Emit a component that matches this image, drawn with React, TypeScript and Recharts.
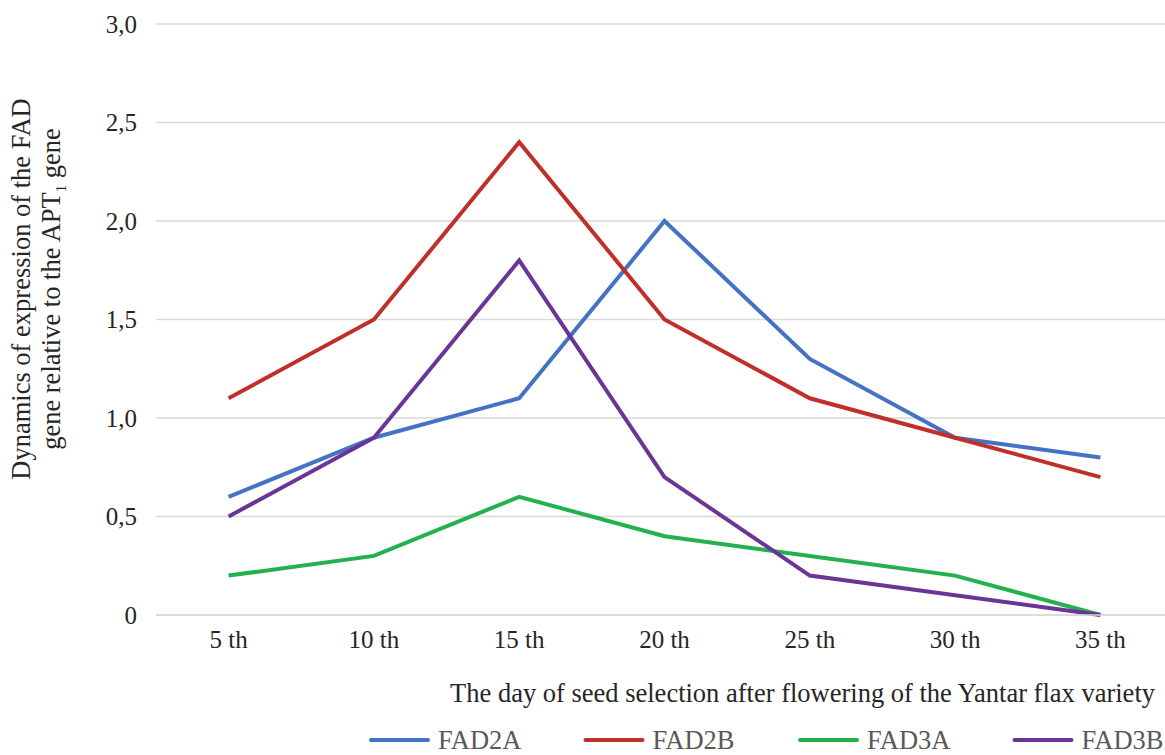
import React from "react";
import { LineChart, Line, XAxis, YAxis, CartesianGrid, Legend, Label } from "recharts";

const categories = ["5 th", "10 th", "15 th", "20 th", "25 th", "30 th", "35 th"];
const fad2a = [0.6, 0.9, 1.1, 2.0, 1.3, 0.9, 0.8];
const fad2b = [1.1, 1.5, 2.4, 1.5, 1.1, 0.9, 0.7];
const fad3a = [0.2, 0.3, 0.6, 0.4, 0.3, 0.2, 0.0];
const fad3b = [0.5, 0.9, 1.8, 0.7, 0.2, 0.1, 0.0];
const yTicks = [0, 0.5, 1, 1.5, 2, 2.5, 3];

const seriesNames = ["FAD2A", "FAD2B", "FAD3A", "FAD3B"];
const seriesColors = ["#4472C4", "#C0302B", "#23B04E", "#6A3596"];

const data = categories.map((c, i) => ({
  day: c,
  FAD2A: fad2a[i],
  FAD2B: fad2b[i],
  FAD3A: fad3a[i],
  FAD3B: fad3b[i],
}));

const FONT = "Liberation Serif, serif";
const fontStyle = { fontFamily: FONT };

const fmtY = (v: number) => (v === 0 ? "0" : v.toFixed(1).replace(".", ","));

const YTitle = () => (
  <g style={fontStyle}>
    <text
      transform="translate(30,289) rotate(-90)"
      textAnchor="middle"
      fontFamily={FONT}
      style={fontStyle}
      fontSize={26.5}
      fill="#262626"
    >
      Dynamics of expression of the FAD
    </text>
    <text
      transform="translate(60,289) rotate(-90)"
      textAnchor="middle"
      fontFamily={FONT}
      style={fontStyle}
      fontSize={26.5}
      fill="#262626"
    >
      gene relative to the APT
      <tspan fontSize={15} dy={6}>1</tspan>
      <tspan dy={-6}> gene</tspan>
    </text>
  </g>
);

const XTitle = () => (
  <text x={1155} y={702} textAnchor="end" fontFamily={FONT} style={fontStyle} fontSize={26.5} fill="#262626">
    The day of seed selection after flowering of the Yantar flax variety
  </text>
);

const LegendContent = () => (
  <svg width={1180} height={40} style={{ display: "block", fontFamily: FONT }}>
    {seriesNames.map((n, i) => {
      const x0 = 371 + i * 214.5;
      return (
        <g key={n}>
          <line x1={x0} y1={25} x2={x0 + 57} y2={25} stroke={seriesColors[i]} strokeWidth={4} strokeLinecap="round" />
          <text x={x0 + 67} y={34} fontFamily={FONT} style={fontStyle} fontSize={26.5} fill="#595959">
            {n}
          </text>
        </g>
      );
    })}
  </svg>
);

export default function App() {
  return (
    <div style={{ position: "absolute", left: 0, top: 0, width: 1165, height: 755, overflow: "hidden", background: "#fff", fontFamily: FONT }}>
      <LineChart width={1180} height={755} data={data} margin={{ top: 24, right: 7, bottom: 0, left: 0 }} style={fontStyle}>
        <CartesianGrid vertical={false} stroke="#D9D9D9" strokeWidth={1.5} />
        <XAxis
          dataKey="day"
          height={100}
          padding={{ left: 72.6, right: 72.6 }}
          tickLine={false}
          tickMargin={9}
          axisLine={{ stroke: "#D9D9D9", strokeWidth: 1.5 }}
          tick={{ fontFamily: FONT, fontSize: 25, fill: "#262626" }}
        >
          <Label content={<XTitle />} />
        </XAxis>
        <YAxis
          width={156}
          domain={[0, 3]}
          ticks={yTicks}
          tickFormatter={fmtY}
          tickLine={false}
          axisLine={false}
          tickMargin={13}
          tick={{ fontFamily: FONT, fontSize: 25, fill: "#262626" }}
        >
          <Label content={<YTitle />} />
        </YAxis>
        <Legend height={40} verticalAlign="bottom" content={<LegendContent />} wrapperStyle={{ left: 0 }} />
        {seriesNames.map((n, i) => (
          <Line
            key={n}
            type="linear"
            dataKey={n}
            stroke={seriesColors[i]}
            strokeWidth={4}
            dot={false}
            activeDot={false}
            isAnimationActive={false}
          />
        ))}
      </LineChart>
    </div>
  );
}
